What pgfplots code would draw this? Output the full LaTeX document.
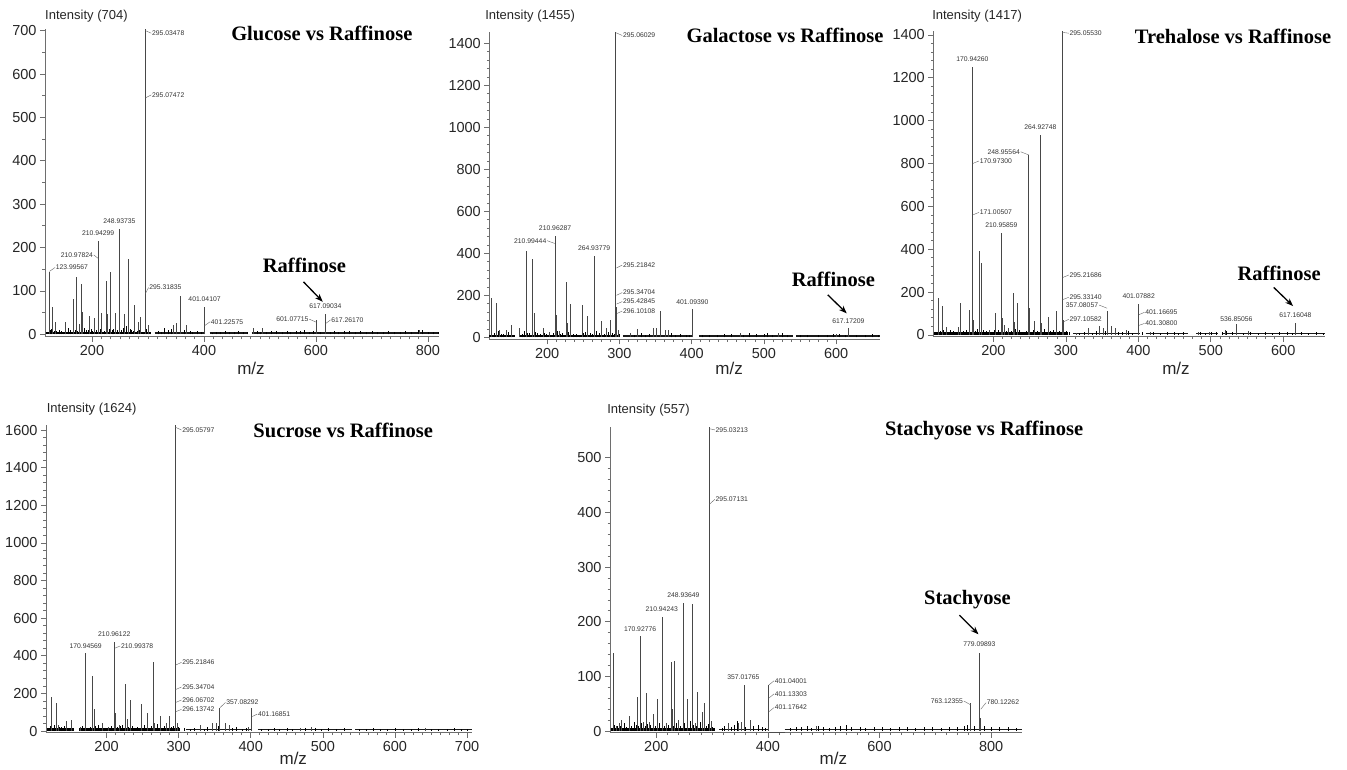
\documentclass[border=0pt]{standalone}
\usepackage{fontspec}
\setmainfont{Liberation Sans}
\newfontfamily\tnr{Liberation Serif}
\usepackage{pgfplots}
\pgfplotsset{compat=1.18}
\usetikzlibrary{arrows.meta}
\definecolor{axgray}{HTML}{6E6E6E}
\newcommand{\lbfont}{\fontsize{6.8}{7}\selectfont}
\pgfplotsset{
 spec/.style={
  scale only axis, axis lines=left, axis line style={-, draw=axgray, line width=0.9pt},
  tick align=outside, major tick length=5pt, minor tick length=2.5pt,
  tick style={draw=axgray, line width=0.7pt},
  tick label style={font=\fontsize{14.5}{14.5}\selectfont, text=black!85},
  /pgf/number format/assume math mode=true, /pgf/number format/1000 sep={},
  scaled ticks=false, clip=false, anchor=south west,
 },
 pk/.style={ycomb, no markers, draw=black!72, line width=0.75pt},
 nz/.style={ycomb, no markers, draw=black, line width=0.6pt},
 blA/.style={no markers, draw=black, line width=2.4pt, unbounded coords=jump},
 blB/.style={no markers, draw=black!90, line width=1.6pt, unbounded coords=jump},
}
\tikzset{
 lbl/.style={font=\lbfont, inner sep=0.6pt, text=black!80},
 ld/.style={draw=black!60, line width=0.4pt},
 ttl/.style={font=\tnr\bfseries\fontsize{20.5}{22}\selectfont},
 arr/.style={-{Stealth[length=8pt,width=6pt]}, line width=1.3pt},
 inten/.style={font=\fontsize{13}{13}\selectfont, text=black!85},
 mz/.style={font=\fontsize{17}{17}\selectfont, text=black!85},
}
\newcommand{\LW}[5]{\draw[ld] (axis cs:#1,#2) -- (axis cs:#3,#4) node[lbl,anchor=west]{#5};}
\newcommand{\LE}[5]{\draw[ld] (axis cs:#1,#2) -- (axis cs:#3,#4) node[lbl,anchor=east]{#5};}
\newcommand{\LC}[3]{\node[lbl] at (axis cs:#1,#2) {#3};}
\begin{document}
\begin{tikzpicture}[x=1pt,y=1pt]
\useasboundingbox (0,0) rectangle (1347,769);

% ---------------- Panel 1: Glucose ----------------
\begin{axis}[spec, at={(45pt,432.1pt)}, width=394.1pt, height=308pt,
  xmin=116, xmax=820, ymin=-6, ymax=704,
  xtick={200,400,600,800}, ytick={0,100,...,700},
  minor x tick num=11, minor y tick num=1]
\addplot[blA] coordinates {(118,3.5) (305,3.5)};
\addplot[blB] coordinates {(312,3) (402,3) (403,nan) (410,3) (478,3) (479,nan) (485,3) (820,3)};
\addplot[nz] coordinates {(126,10)(128,12)(133,7)(136,8)(142,10)(145,7)(148,6)(153,9)(157,14)(162,9)(166,15)(170,11)(174,8)(177,12)(186,14)(189,9)(193,11)(198,13)(201,8)(208,9)(214,12)(216,10)(222,7)(225,11)(230,13)(236,9)(238,12)(245,10)(252,9)(256,14)(262,18)(268,12)(270,10)(273,8)(280,8)(285,11)(292,6)(297,12)(300,10)(304,6)(318,8)(324,6)(330,15)(336,9)(341,12)(350,6)(364,10)(375,7)(380,5)(388,8)(395,5)(415,4)(422,5)(430,6)(438,7)(446,5)(455,6)(462,7)(470,5)(478,6)(495,8)(500,5)(512,6)(520,7)(530,8)(540,5)(548,7)(555,6)(565,8)(572,7)(580,9)(588,6)(596,7)(608,6)(625,6)(632,8)(640,5)(650,7)(660,8)(670,6)(680,7)(690,5)(700,8)(710,6)(720,5)(730,7)(740,6)(750,5)(760,7)(770,6)(782,9)(790,10)(800,6)(810,5)(818,6)};
\addplot[pk] coordinates {(124,144)(130,64)(135.3,29)(152,29)(166.9,81)(171.6,131)(177.6,24)(181.8,115)(183.5,52)(194.9,42)(203.8,37)(211,216)(217.5,48)(226.4,123)(228.2,46)(232.4,144)(241.3,48)(249,242)(257.4,46)(265.1,173)(275.2,68)(283,29)(287.1,41)(295,704)(296,75)(300.8,22)(345.5,22)(351.4,27)(357.4,89)(368.1,22)(401,64)(488.4,14)(505,15)(600.3,33)(617.1,46)(785,10)};
\LW{295.3}{700}{306}{694}{295.03478}
\LW{295.3}{545}{306}{552}{295.07472}
\LW{295.5}{94}{301}{108}{295.31835}
\LC{249}{260}{248.93735}
\LC{211}{233}{210.94299}
\LE{211}{175}{203}{183}{210.97824}
\LW{124}{145}{134}{154}{123.99567}
\LC{401}{81}{401.04107}
\LW{401.3}{20}{411}{29}{401.22575}
\LE{600.3}{28}{588}{35}{601.07715}
\LC{617}{64}{617.09034}
\LW{617.5}{25}{626}{33}{617.26170}
\node[ttl] at (axis cs:610.5,694) {Glucose vs Raffinose};
\node[ttl] at (axis cs:579.5,158) {Raffinose};
\draw[arr] (axis cs:577.7,121) -- (axis cs:612.2,75);
\node[inten] at (axis cs:190,734) {Intensity (704)};
\node[mz] at (axis cs:484,-78) {m/z};
\end{axis}

% ---------------- Panel 2: Galactose ----------------
\begin{axis}[spec, at={(489.3pt,429.6pt)}, width=390.2pt, height=307.7pt,
  xmin=120, xmax=660, ymin=-10, ymax=1455,
  xtick={200,300,...,600}, ytick={0,200,...,1400},
  minor x tick num=7, minor y tick num=4]
\addplot[blA] coordinates {(120,7) (155,7) (156,nan) (162,7) (300,7)};
\addplot[blB] coordinates {(305,6) (402,6) (403,nan) (410,6) (540,6) (541,nan) (545,6) (660,6)};
\addplot[nz] coordinates {(127,20)(133,30)(137,18)(140,15)(146,25)(150,12)(165,18)(168,28)(173,20)(176,22)(184,26)(187,20)(190,15)(196,22)(199,18)(205,12)(209,20)(214,30)(218,16)(221,20)(230,24)(236,15)(240,18)(245,10)(250,20)(253,25)(260,22)(263,18)(268,30)(272,20)(279,15)(284,24)(290,20)(293,14)(300,15)(320,12)(330,20)(336,10)(342,15)(372,20)(378,12)(385,15)(392,10)(397,12)(415,10)(425,12)(435,10)(445,14)(455,18)(472,12)(480,20)(490,18)(500,15)(505,20)(512,10)(525,22)(532,12)(550,10)(560,12)(575,10)(588,12)(596,18)(604,14)(612,12)(628,10)(640,12)(650,15)(658,10)};
\addplot[pk] coordinates {(123.3,186)(129.3,165)(134,35)(144.1,35)(150.1,59)(161.6,43)(170.9,413)(180.1,371)(182.4,114)(194.9,43)(202.7,27)(211,480)(212.4,106)(217,32)(226.2,265)(228.1,67)(232.7,159)(249.3,154)(256.2,102)(265,387)(275.6,79)(282.5,43)(287.1,83)(295,1455)(296.4,146)(298.7,35)(314.8,19)(325,38)(347.1,43)(351.7,43)(356.3,127)(363.3,35)(367.9,35)(401.1,133)(467,19)(520,19)(600.8,16)(617,43)};
\LW{295.3}{1450}{304}{1437}{295.06029}
\LW{296}{330}{304}{344}{295.21842}
\LW{296}{200}{304}{213}{295.34704}
\LW{296}{158}{304}{170}{295.42845}
\LW{296.5}{113}{304}{125}{296.10108}
\LC{211}{519}{210.96287}
\LE{210.5}{447}{200}{460}{210.99444}
\LC{265}{424}{264.93779}
\LC{401.1}{165}{401.09390}
\LC{617}{79}{617.17209}
\node[ttl] at (axis cs:529.3,1437) {Galactose vs Raffinose};
\node[ttl] at (axis cs:596.2,276) {Raffinose};
\draw[arr] (axis cs:588.4,202) -- (axis cs:614.7,114);
\node[inten] at (axis cs:176.4,1530) {Intensity (1455)};
\node[mz] at (axis cs:451.8,-146) {m/z};
\end{axis}

% ---------------- Panel 3: Trehalose ----------------
\begin{axis}[spec, at={(933.3pt,432.3pt)}, width=392pt, height=305.4pt,
  xmin=117, xmax=658, ymin=-8, ymax=1417,
  xtick={200,300,...,600}, ytick={0,200,...,1400},
  minor x tick num=7, minor y tick num=4]
\addplot[blA] coordinates {(118,7) (303,7)};
\addplot[blB] coordinates {(310,6) (402,6) (403,nan) (410,6) (468,6) (469,nan) (480,6) (510,6) (511,nan) (515,6) (658,6)};
\addplot[nz] coordinates {(126,20)(131,25)(137,15)(141,22)(145,18)(150,12)(158,20)(163,25)(175,18)(178,30)(186,24)(190,20)(198,15)(201,22)(207,25)(218,20)(224,18)(230,26)(236,22)(242,15)(246,20)(255,25)(260,20)(263,16)(270,30)(279,20)(283,25)(291,18)(300,20)(305,12)(318,10)(325,12)(336,10)(342,18)(355,20)(372,15)(378,12)(386,18)(392,10)(405,12)(420,15)(430,10)(440,12)(450,15)(455,10)(462,12)(485,12)(492,10)(500,15)(507,12)(516,14)(522,20)(530,12)(545,10)(555,14)(565,10)(575,12)(585,10)(595,14)(605,12)(612,10)(625,12)(635,10)(645,12)(655,10)};
\addplot[pk] coordinates {(123.6,171)(129.5,135)(135,39)(151.2,39)(154.8,151)(166.3,117)(170.94,1252)(172.8,70)(181,393)(183.4,338)(194,23)(203.1,101)(211,478)(212.3,78)(215.6,47)(220.2,31)(227.1,198)(228.4,62)(232.6,151)(248.7,840)(250,124)(257,67)(264.8,935)(266.2,54)(275.4,86)(286.9,112)(295.1,1417)(296,70)(314.5,11)(330.6,34)(346.7,42)(351.3,31)(356.8,114)(362.8,42)(368.7,31)(383.5,23)(400.5,145)(416.6,16)(482.4,16)(498.5,16)(520.5,23)(535.3,51)(551.4,19)(617.2,58)};
\LW{295.3}{1412}{304}{1408}{295.05530}
\LC{170.9}{1286}{170.94260}
\LW{171.3}{800}{180}{812}{170.97300}
\LW{171.3}{560}{180}{572}{171.00507}
\LC{211}{513}{210.95859}
\LE{248.7}{840}{237.5}{855}{248.95564}
\LC{264.8}{972}{264.92748}
\LW{295.5}{268}{304}{280}{295.21686}
\LW{295.5}{165}{304}{176}{295.33140}
\LW{297}{62}{304}{73}{297.10582}
\LE{356.8}{125}{345.5}{140}{357.08057}
\LC{400.5}{182}{401.07882}
\LW{401}{95}{408.5}{106}{401.16695}
\LW{401}{45}{408.5}{54}{401.30800}
\LC{535.3}{73}{536.85056}
\LC{616.7}{93}{617.16048}
\node[ttl] at (axis cs:530.7,1392) {Trehalose vs Raffinose};
\node[ttl] at (axis cs:594.2,288) {Raffinose};
\draw[arr] (axis cs:586.8,222) -- (axis cs:613.5,135);
\node[inten] at (axis cs:177.4,1489) {Intensity (1417)};
\node[mz] at (axis cs:451.9,-154) {m/z};
\end{axis}

% ---------------- Panel 4: Sucrose ----------------
\begin{axis}[spec, at={(46pt,36.3pt)}, width=426.1pt, height=307.2pt,
  xmin=116, xmax=707, ymin=-9, ymax=1624,
  xtick={200,300,...,700}, ytick={0,200,...,1600},
  minor x tick num=7, minor y tick num=4]
\addplot[blA] coordinates {(118,8) (155,8) (156,nan) (162,8) (302,8)};
\addplot[blB] coordinates {(310,7) (400,7) (401,nan) (410,7) (540,7) (541,nan) (545,7) (707,7)};
\addplot[nz] coordinates {(122,25)(128,30)(134,22)(137,20)(141,25)(148,15)(166,25)(170,18)(177,20)(185,24)(188,30)(192,18)(197,15)(206,25)(215,20)(219,26)(222,30)(230,20)(236,25)(242,20)(246,18)(252,30)(262,25)(270,35)(274,22)(280,25)(290,20)(293,28)(300,20)(308,15)(316,10)(322,15)(336,12)(340,20)(355,25)(374,15)(380,20)(388,12)(394,15)(415,10)(425,12)(432,15)(440,10)(450,14)(458,12)(475,18)(490,15)(498,12)(508,14)(518,10)(530,15)(550,10)(560,12)(570,15)(580,12)(590,10)(600,14)(612,10)(622,12)(632,15)(650,10)(660,12)(672,10)(683,15)(692,12)(700,10)};
\addplot[pk] coordinates {(123.8,179)(129.8,151)(133.1,32)(144.6,53)(150.6,58)(163.1,23)(170.95,413)(180.7,292)(183,115)(194.5,44)(202.4,23)(210.96,475)(211.6,94)(217.6,32)(226.4,250)(228.3,62)(232.4,165)(248.6,142)(256.5,97)(264.8,369)(265.7,41)(275,80)(282.4,44)(286.5,80)(295.06,1624)(295.8,147)(298.1,41)(330.4,32)(346.6,44)(351.7,41)(357.1,124)(364.2,41)(369.7,32)(396.6,23)(401.2,120)(468.2,14)(484.4,19)(641.6,14)};
\LW{295.3}{1615}{304}{1600}{295.05797}
\LW{295.5}{350}{304}{365}{295.21846}
\LW{295.5}{220}{304}{234}{295.34704}
\LW{296}{152}{304}{165}{296.06702}
\LW{296}{103}{304}{115}{296.13742}
\LW{357.3}{124}{365}{152}{357.08292}
\LW{401.5}{76}{409}{90}{401.16851}
\LC{170.95}{452}{170.94569}
\LC{210.7}{514}{210.96122}
\LW{211.2}{440}{219}{452}{210.99378}
\node[ttl] at (axis cs:528.3,1596) {Sucrose vs Raffinose};
\node[inten] at (axis cs:179.3,1710) {Intensity (1624)};
\node[mz] at (axis cs:459,-145) {m/z};
\end{axis}

% ---------------- Panel 5: Stachyose ----------------
\begin{axis}[spec, at={(610pt,36.3pt)}, width=411.8pt, height=306.1pt,
  xmin=117, xmax=855, ymin=-3, ymax=557,
  xtick={200,400,600,800}, ytick={0,100,...,500},
  minor x tick num=9, minor y tick num=4]
\addplot[blA] coordinates {(118,2.7) (305,2.7)};
\addplot[blB] coordinates {(312,2.5) (402,2.5) (403,nan) (430,2.5) (855,2.5)};
\addplot[no markers, draw=black!70, line width=0.6pt] coordinates {(402,-1.5) (430,-1.5)};
\addplot[nz] coordinates {(125,12)(130,10)(136,9)(143,14)(146,8)(155,10)(160,16)(164,12)(168,9)(173,14)(180,10)(184,13)(190,12)(198,9)(206,14)(214,10)(218,12)(222,12)(230,9)(236,15)(243,10)(250,14)(255,11)(260,18)(266,12)(272,10)(278,16)(290,10)(293,13)(300,8)(318,6)(322,10)(335,8)(340,12)(345,18)(360,8)(374,10)(382,12)(390,8)(395,6)(440,6)(450,8)(460,7)(470,9)(478,6)(490,10)(500,7)(510,6)(520,8)(530,10)(540,12)(550,8)(565,7)(575,6)(590,8)(605,7)(620,6)(635,8)(650,7)(665,6)(680,8)(695,7)(710,6)(725,8)(740,7)(752,10)(758,12)(770,10)(788,9)(800,7)(815,8)(830,7)(845,6)};
\addplot[pk] coordinates {(123.1,143)(127.9,9)(133.9,15)(138.1,21)(151.2,27)(166.2,63)(170.93,173)(176.9,17)(182.9,69)(187.7,17)(194.8,32)(202.6,58)(210.94,209)(211.6,26)(218.7,14)(226.5,127)(228.9,40)(232.5,128)(239.6,20)(248.94,234)(256.4,58)(264.7,232)(269.5,14)(274.3,72)(282.6,34)(286.2,51)(295.03,557)(295.8,57)(299.4,19)(329.2,14)(347.2,14)(351.9,17)(357.02,84)(369.3,21)(401.04,84)(487.6,9)(763.12,51)(779.1,143)(781.5,23)};
\LW{295.3}{553}{305}{551}{295.03213}
\LW{295.3}{415}{305}{424}{295.07131}
\LC{248.6}{249}{248.93649}
\LC{209.8}{223}{210.94243}
\LC{170.9}{187}{170.92776}
\LC{356.1}{98}{357.01765}
\LW{401.3}{84}{411}{92}{401.04001}
\LW{401.3}{60}{411}{68}{401.13303}
\LW{401.3}{35}{411}{43}{401.17642}
\LE{763.3}{48}{751}{55}{763.12355}
\LW{781.5}{40}{791}{52}{780.12262}
\LC{779.1}{159}{779.09893}
\node[ttl] at (axis cs:757.6,240) {Stachyose};
\draw[arr] (axis cs:743.2,212) -- (axis cs:777.3,177);
\node[ttl] at (axis cs:787.5,550.6) {Stachyose vs Raffinose};
\node[inten] at (axis cs:185.9,588) {Intensity (557)};
\node[mz] at (axis cs:517.4,-50) {m/z};
\end{axis}
\end{tikzpicture}
\end{document}
